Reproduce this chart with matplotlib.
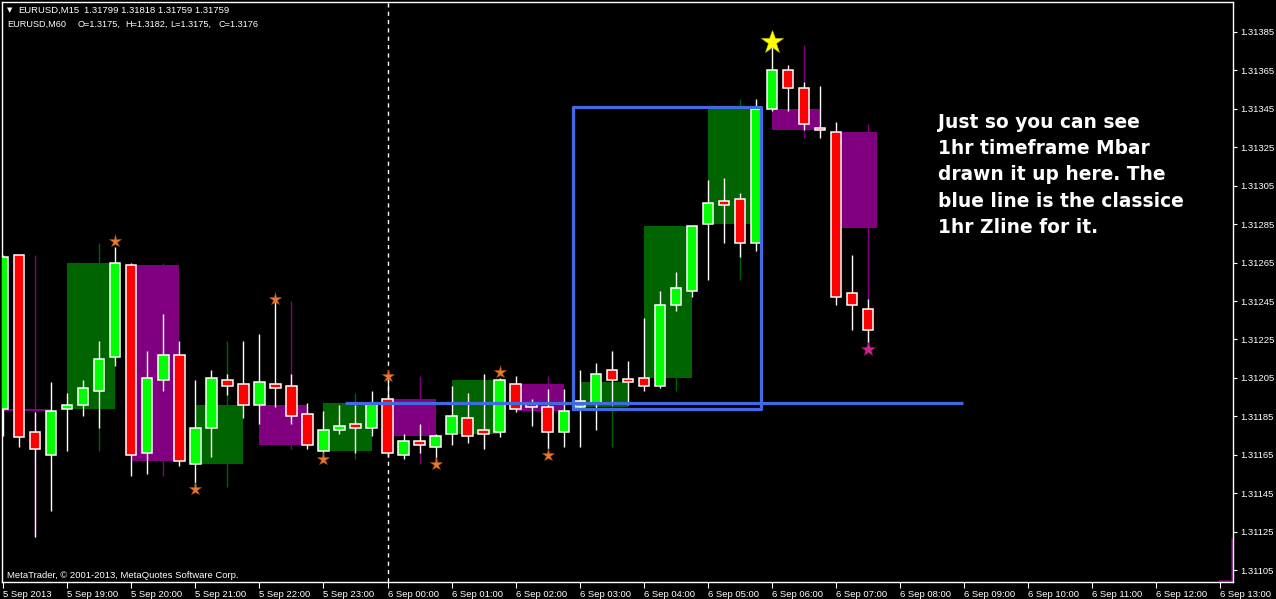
import numpy as np
import matplotlib
matplotlib.use("Agg")
import matplotlib.pyplot as plt

plt.rcParams['font.family'] = ['Liberation Sans', 'DejaVu Sans']

# EURUSD M15 bars from 5 Sep 2013 18:00 (index = 15 min bar)
opens = [1.31189, 1.31269, 1.31177, 1.31165, 1.31189, 1.31191, 1.31198, 1.31216, 1.31264, 1.31166,
         1.31204, 1.31217, 1.31160, 1.31179, 1.31204, 1.31202, 1.31191, 1.31202, 1.31201, 1.31186,
         1.31167, 1.31178, 1.31181, 1.31179, 1.31194, 1.31165, 1.31172, 1.31169, 1.31176, 1.31184,
         1.31178, 1.31177, 1.31202, 1.31191, 1.31190, 1.31177, 1.31190, 1.31192, 1.31209, 1.31204,
         1.31205, 1.31201, 1.31243, 1.31250, 1.31285, 1.31297, 1.31298, 1.31275, 1.31345, 1.31365,
         1.31356, 1.31335, 1.31333, 1.31249, 1.31241]
highs = [1.31269, 1.31269, 1.31187, 1.31203, 1.31197, 1.31204, 1.31224, 1.31273, 1.31265, 1.31219,
         1.31238, 1.31224, 1.31204, 1.31209, 1.31207, 1.31224, 1.31228, 1.31245, 1.31207, 1.31192,
         1.31188, 1.31191, 1.31191, 1.31198, 1.31204, 1.31176, 1.31181, 1.31176, 1.31201, 1.31197,
         1.31207, 1.31205, 1.31206, 1.31194, 1.31199, 1.31199, 1.31209, 1.31213, 1.31219, 1.31214,
         1.31236, 1.31250, 1.31260, 1.31284, 1.31308, 1.31309, 1.31301, 1.31350, 1.31378, 1.31368,
         1.31359, 1.31357, 1.31338, 1.31269, 1.31246]
lows = [1.31175, 1.31169, 1.31122, 1.31136, 1.31167, 1.31185, 1.31179, 1.31211, 1.31154, 1.31155,
        1.31198, 1.31159, 1.31148, 1.31164, 1.31196, 1.31184, 1.31181, 1.31190, 1.31181, 1.31168,
        1.31165, 1.31176, 1.31166, 1.31175, 1.31164, 1.31163, 1.31166, 1.31162, 1.31170, 1.31171,
        1.31168, 1.31174, 1.31187, 1.31180, 1.31168, 1.31169, 1.31169, 1.31178, 1.31191, 1.31191,
        1.31198, 1.31200, 1.31240, 1.31247, 1.31256, 1.31275, 1.31268, 1.31271, 1.31344, 1.31344,
        1.31334, 1.31330, 1.31243, 1.31230, 1.31223]
closes = [1.31268, 1.31174, 1.31168, 1.31188, 1.31191, 1.31200, 1.31215, 1.31265, 1.31165, 1.31205,
          1.31217, 1.31162, 1.31179, 1.31205, 1.31201, 1.31191, 1.31203, 1.31200, 1.31185, 1.31170,
          1.31178, 1.31180, 1.31179, 1.31192, 1.31166, 1.31172, 1.31170, 1.31175, 1.31185, 1.31175,
          1.31176, 1.31204, 1.31189, 1.31190, 1.31177, 1.31188, 1.31193, 1.31207, 1.31204, 1.31203,
          1.31201, 1.31243, 1.31252, 1.31284, 1.31296, 1.31295, 1.31275, 1.31345, 1.31365, 1.31356,
          1.31337, 1.31334, 1.31247, 1.31243, 1.31230]

# 1hr "Mbar" boxes, one per hour starting 18:00
h_open = [1.31189, 1.31189, 1.31264, 1.31160, 1.31191, 1.31167, 1.31194, 1.31176, 1.31202, 1.31190,
          1.31205, 1.31285, 1.31345, 1.31333]
h_high = [1.31269, 1.31275, 1.31265, 1.31224, 1.31245, 1.31197, 1.31206, 1.31207, 1.31206, 1.31219,
          1.31284, 1.31350, 1.31378, 1.31337]
h_low = [1.31122, 1.31167, 1.31154, 1.31148, 1.31168, 1.31163, 1.31160, 1.31168, 1.31168, 1.31169,
         1.31198, 1.31256, 1.31330, 1.31220]
h_close = [1.31188, 1.31265, 1.31162, 1.31191, 1.31170, 1.31192, 1.31175, 1.31204, 1.31188, 1.31203,
           1.31284, 1.31345, 1.31334, 1.31283]

# fractal stars
star_idx = [7, 12, 17, 20, 24, 27, 31, 34]
star_price = [1.31276, 1.31147, 1.31246, 1.31163, 1.31206, 1.31160, 1.31208, 1.31165]
top_star = (48, 1.31380)
low_star = (54, 1.31220)

# drawn objects
zline_price = 1.31192
zline_span = (21.35, 59.95)
box_x = (35.58, 47.33)
box_y = (1.31189, 1.31346)

time_labels = ['5 Sep 2013', '5 Sep 19:00', '5 Sep 20:00', '5 Sep 21:00', '5 Sep 22:00', '5 Sep 23:00',
               '6 Sep 00:00', '6 Sep 01:00', '6 Sep 02:00', '6 Sep 03:00', '6 Sep 04:00', '6 Sep 05:00',
               '6 Sep 06:00', '6 Sep 07:00', '6 Sep 08:00', '6 Sep 09:00', '6 Sep 10:00', '6 Sep 11:00',
               '6 Sep 12:00', '6 Sep 13:00']
price_ticks = [1.31105 + 0.0002 * k for k in range(15)]

W, H = 1276, 599
fig = plt.figure(figsize=(W / 100, H / 100), dpi=100, facecolor='black')
ax = fig.add_axes([2 / W, 17 / H, 1231 / W, 580 / H])
ax.set_facecolor('black')
ax.set_xlim(-0.08, 76.81)
ax.set_ylim(1.310988, 1.314006)

# hourly boxes
last_bar = len(opens) - 1
h_o, h_c = np.array(h_open), np.array(h_close)
h_start = np.arange(len(h_open)) * 4
h_end = np.minimum(h_start + 3, last_bar + 0.6)
h_col = np.where(h_c > h_o, '#006400', '#800080')
ax.bar(h_start, np.maximum(np.abs(h_c - h_o), 1e-5), bottom=np.minimum(h_o, h_c),
       width=h_end - h_start, align='edge', color=h_col, linewidth=0, zorder=1)
ax.vlines(h_start + 2, h_low, h_high, colors=h_col, lw=1, zorder=2)

# candles
o, c = np.array(opens), np.array(closes)
idx = np.arange(len(opens))
ax.vlines(idx, lows, highs, colors='white', lw=1, zorder=3)
ax.bar(idx, np.maximum(np.abs(c - o), 1.2e-5), bottom=np.minimum(o, c), width=0.64,
       color=np.where(c >= o, '#00ff00', '#ff0000'), edgecolor='white', linewidth=1.1, zorder=4)

# stars
ax.plot(star_idx, star_price, ls='none', marker='*', ms=9.5, color='#e8792e', mec='#a04a10', mew=0.4, zorder=5)
ax.plot(*top_star, marker='*', ms=17, color='#ffff00', mec='#c8c800', mew=0.4, zorder=5)
ax.plot(*low_star, marker='*', ms=10, color='#d0258f', mec='#901060', mew=0.4, zorder=5)

# session divider
ax.axvline(24, color='white', lw=1, ls=(0, (3, 3)), zorder=2)

# Zline and box
ax.plot(zline_span, [zline_price] * 2, color='#4169e1', lw=2.3, zorder=6, solid_capstyle='butt')
ax.plot([box_x[0], box_x[1], box_x[1], box_x[0], box_x[0]],
        [box_y[0], box_y[0], box_y[1], box_y[1], box_y[0]], color='#4169e1', lw=2.3, zorder=6)

# current hour stub at the right border
ax.plot([76.0, 76.76, 76.76], [1.310995, 1.310995, 1.31121], color='#800080', lw=1.8, zorder=2)

# axes styling
for s in ax.spines.values():
    s.set_color('white')
    s.set_linewidth(1)
ax.yaxis.tick_right()
ax.set_yticks(price_ticks)
ax.set_yticklabels(['%.5f' % p for p in price_ticks])
ax.set_xticks(np.arange(len(time_labels)) * 4)
ax.set_xticklabels(time_labels, ha='left')
ax.tick_params(axis='y', colors='white', length=3, labelsize=6.8, pad=2)
ax.tick_params(axis='x', colors='white', length=4, labelsize=6.8, pad=2)

# header
fig.text(7 / W, 1 - 12.5 / H, '\u25bc', color='white', fontsize=5, family=['DejaVu Sans'])
fig.text(18 / W, 1 - 13.3 / H, 'EURUSD,M15', color='white', fontsize=6.8)
fig.text(84 / W, 1 - 13.3 / H, '1.31799 1.31818 1.31759 1.31759', color='white', fontsize=6.8)
for xp, s in [(7.3, 'EURUSD,M60'), (77.3, 'O=1.3175,'), (125.7, 'H=1.3182,'), (170.7, 'L=1.3175,'),
              (218.3, 'C=1.3176')]:
    fig.text(xp / W, 1 - 26.7 / H, s, color='white', fontsize=6.6)
fig.text(7.3 / W, 1 - 577.5 / H, 'MetaTrader, \u00a9 2001-2013, MetaQuotes Software Corp.', color='white', fontsize=6.8)

# comment
note = ['Just so you can see', '1hr timeframe Mbar', 'drawn it up here. The',
        'blue line is the classice', '1hr Zline for it.']
for k, line in enumerate(note):
    fig.text(938 / W, 1 - (127.7 + 26.3 * k) / H, line, color='white', fontsize=13.4,
             fontweight='bold', family=['DejaVu Sans'], va='baseline')

fig.savefig('out.png', dpi=100, facecolor='black')
